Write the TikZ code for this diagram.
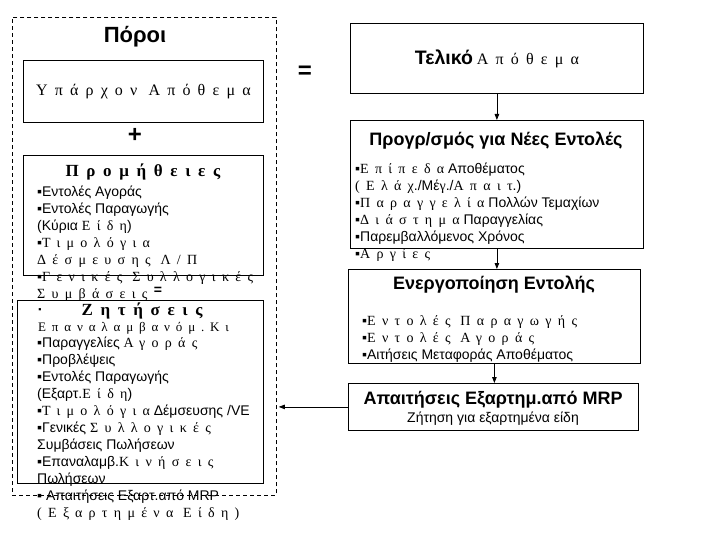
\documentclass[tikz,border=0pt]{standalone}
\usepackage{fontspec}
\setmainfont{Liberation Sans}
\newfontfamily\grspaced[LetterSpace=45]{Liberation Serif}
\usetikzlibrary{positioning}
\usetikzlibrary{arrows.meta}
\usetikzlibrary{calc}
\newcommand{\spaced}[1]{{\grspaced #1}}

\begin{document}
\begin{tikzpicture}[
  x=1pt, y=-1pt,
  font=\fontsize{14}{17}\selectfont,
  box/.style={draw, line width=0.8pt, inner sep=0pt, anchor=north west},
  frame/.style={draw, line width=0.8pt, dash pattern=on 4pt off 3pt, inner sep=0pt, anchor=north west},
  title/.style={font=\fontsize{18}{20}\selectfont\bfseries},
  head/.style={font=\fontsize{17}{19}\selectfont\bfseries\grspaced, anchor=west},
  list/.style={anchor=north west, align=left, inner sep=0pt, text depth=0pt},
  sign/.style={font=\fontsize{24}{24}\selectfont\bfseries},
  arrow/.style={-{Triangle[length=6pt,width=4.5pt]}, line width=0.8pt}
]
\useasboundingbox (0,0) rectangle (720,540);

% Resources column
\node[frame, minimum width=264pt, minimum height=478pt] (res) at (12,17) {};
\node[font=\fontsize{22}{24}\selectfont\bfseries] (restitle) at (135,37) {Πόροι};

\node[box, minimum width=240pt, minimum height=62pt] (have) at (23,60) {};
\node[font=\fontsize{16}{18}\selectfont] (havetxt) at (have.center) {\spaced{Υπάρχον Απόθεμα}};
\node[sign] (plus) at (135,135) {+};

\node[box, minimum width=240pt, minimum height=120pt] (supp) at (23,155) {};
\node[head] (supphead) at (62,172) {Προμήθειες};
\node[list] (supplist) at (37,186) {%
  ▪Εντολές Αγοράς\\
  ▪Εντολές Παραγωγής\\
  (Κύρια \spaced{Είδη})\\
  ▪\spaced{Τιμολόγια}\\
  \spaced{Δέσμευσης Λ/Π}\\
  ▪\spaced{Γενικές Συλλογικές}\\
  \spaced{Συμβάσεις}};
\node[font=\fontsize{14}{14}\selectfont\bfseries, inner sep=0pt] (eq1) at (158,291) {=};

\node[box, minimum width=246pt, minimum height=183pt] (dem) at (17,300) {};
\node[font=\fontsize{9}{9}\selectfont] (dembul) at (40,311) {▪};
\node[head] (demhead) at (78,311) {Ζητήσεις};
\node[list, font=\fontsize{13}{16}\selectfont] (demrep) at (38,322) {\spaced{Επαναλαμβανόμ.Κι}};
\node[list] (demlist) at (37,337) {%
  ▪Παραγγελίες \spaced{Αγοράς}\\
  ▪Προβλέψεις\\
  ▪Εντολές Παραγωγής\\
  (Εξαρτ.\spaced{Είδη})\\
  ▪\spaced{Τιμολόγια} Δέμσευσης /VE\\
  ▪Γενικές \spaced{Συλλογικές}\\
  Συμβάσεις Πωλήσεων\\
  ▪Επαναλαμβ.\spaced{Κινήσεις}\\
  Πωλήσεων\\
  ▪ Απαιτήσεις Εξαρτ.από MRP\\
  \spaced{(Εξαρτημένα Είδη)}};

\node[sign] (eq2) at (305,72) {=};

% Planning chain
\node[box, minimum width=293pt, minimum height=70pt] (fin) at (350,23) {};
\node (fintxt) at (fin.center) {{\fontsize{19.5}{22}\selectfont\bfseries Τελικό} {\fontsize{16}{18}\selectfont\spaced{Απόθεμα}}};

\node[box, minimum width=293pt, minimum height=128pt] (plan) at (350,120) {};
\node[title] (plantitle) at (496,141) {Προγρ/σμός για Νέες Εντολές};
\node[list] (planlist) at (355,163) {%
  ▪\spaced{Επίπεδα} Αποθέματος\\
  \spaced{(Ελάχ}./Μέ\spaced{γ}./\spaced{Απαιτ}.)\\
  ▪\spaced{Παραγγελία} Πολλών Τεμαχίων\\
  ▪\spaced{Διάστημα} Παραγγελίας\\
  ▪Παρεμβαλλόμενος Χρόνος\\
  ▪\spaced{Αργίες}};

\node[box, minimum width=292pt, minimum height=94pt] (act) at (348,269) {};
\node[title] (acttitle) at (494,285) {Ενεργοποίηση Εντολής};
\node[list] (actlist) at (362,315) {%
  ▪\spaced{Εντολές Παραγωγής}\\
  ▪\spaced{Εντολές Αγοράς}\\
  ▪Αιτήσεις Μεταφοράς Αποθέματος};

\node[box, minimum width=290pt, minimum height=47pt] (mrp) at (348,383) {};
\node[title] (mrptitle) at (493,400) {Απαιτήσεις Εξαρτημ.από MRP};
\node (mrpsub) at (493,419) {Ζήτηση για εξαρτημένα είδη};

\draw[arrow] (fin.south) -- (plan.north);
\draw[arrow] (plan.south) -- (plan.south |- act.north);
\draw[arrow] (act.south) -- (act.south |- mrp.north);
\draw[arrow] (mrp.west) -- ($(mrp.west -| res.east)+(2,0)$);

\end{tikzpicture}
\end{document}
